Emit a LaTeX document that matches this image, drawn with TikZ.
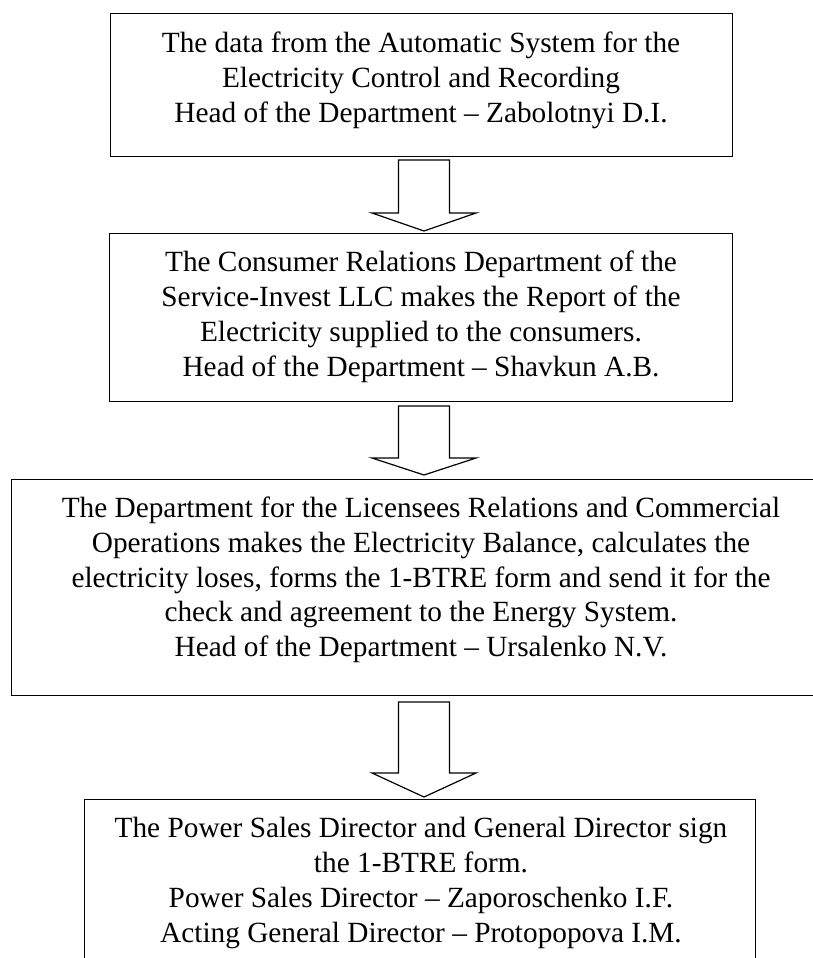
\documentclass[tikz,border=0pt]{standalone}
\usepackage{fontspec}
\setmainfont{Liberation Serif}
\usetikzlibrary{calc}
\newcommand\myblockarrow[3]{%
  \draw[blk] ($(#1)+(-25.5,0)$) -- ($(#1)+(25.5,0)$) -- ($(#1)+(25.5,#2)$)
    -- ($(#1)+(52,#2)$) -- ($(#1)+(0,{#2+#3})$) -- ($(#1)+(-52,#2)$)
    -- ($(#1)+(-25.5,#2)$) -- cycle;}
\begin{document}
\begin{tikzpicture}[x=1pt,y=-1pt,
  box/.style={draw,line width=1.3pt,inner sep=0pt,anchor=north west},
  txt/.style={align=center,anchor=base,inner sep=0pt,font=\fontsize{29.3}{34.7}\selectfont},
  blk/.style={draw,line width=1.2pt,fill=white,line join=miter}]
\useasboundingbox (0,0) rectangle (812,958);
\node[box,minimum width=622pt,minimum height=143pt] (b1) at (110,13) {};
\node[box,minimum width=623pt,minimum height=168pt] (b2) at (109,233) {};
\node[box,minimum width=824pt,minimum height=216pt] (b3) at (11,479) {};
\node[box,minimum width=671pt,minimum height=181pt] (b4) at (84,799) {};

% anchor=base is the baseline of the last line
\node[txt] (t1) at (421,122) {The data from the Automatic System for the\\Electricity Control and Recording\\Head of the Department \textendash{} Zabolotnyi D.I.};
\node[txt] (t2) at (421,376) {The Consumer Relations Department of the\\Service-Invest LLC makes the Report of the\\Electricity supplied to the consumers.\\Head of the Department \textendash{} Shavkun A.B.};
\node[txt] (t3) at (421,656.5) {The Department for the Licensees Relations and Commercial\\Operations makes the Electricity Balance, calculates the\\electricity loses, forms the 1-BTRE form and send it for the\\check and agreement to the Energy System.\\Head of the Department \textendash{} Ursalenko N.V.};
\node[txt] (t4) at (421,942) {The Power Sales Director and General Director sign\\the 1-BTRE form.\\Power Sales Director \textendash{} Zaporoschenko I.F.\\Acting General Director \textendash{} Protopopova I.M.};

\coordinate (a1) at (424,160);
\coordinate (a2) at (424,406);
\coordinate (a3) at (424,702);
\myblockarrow{a1}{53}{18}
\myblockarrow{a2}{52}{17}
\myblockarrow{a3}{71}{24}
\end{tikzpicture}
\end{document}
